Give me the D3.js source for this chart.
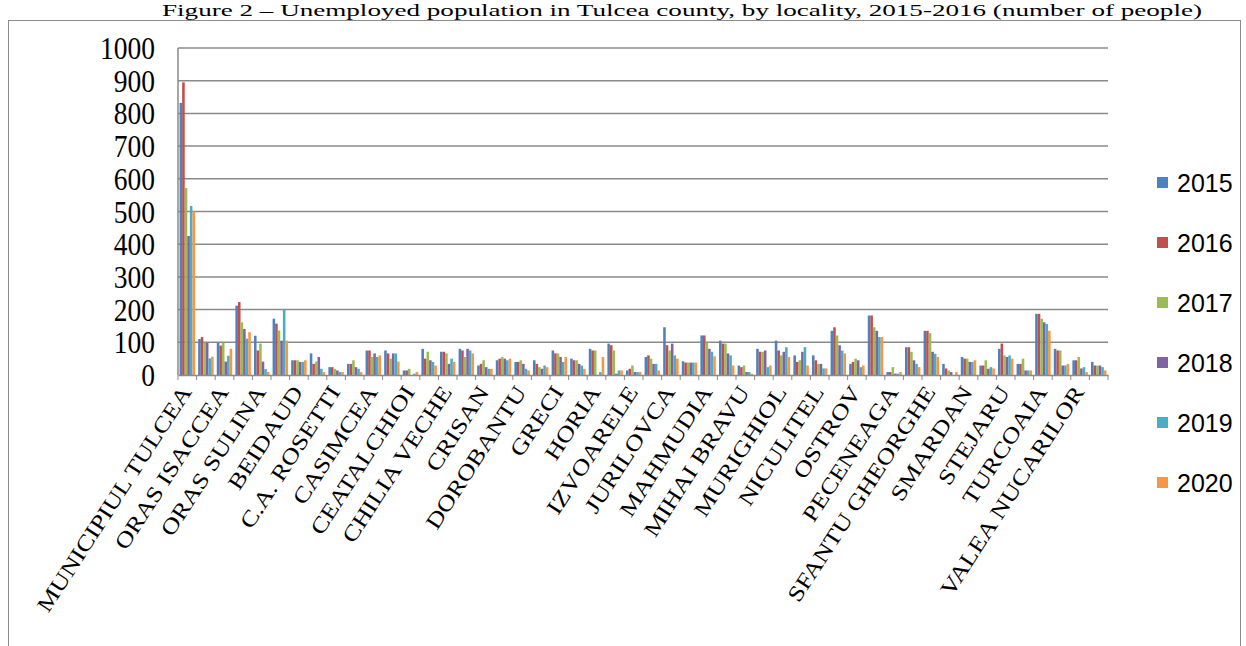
<!DOCTYPE html>
<html>
<head>
<meta charset="utf-8">
<script src="https://cdn.jsdelivr.net/npm/d3@7"></script>
<style>
  body { margin: 0; background: #fff; }
  svg { display: block; }
</style>
</head>
<body>
<div id="chart"></div>
<script>
// localities, in the order of the source table
const categories = [
  "MUNICIPIUL TULCEA", "ORAS BABADAG", "ORAS ISACCEA", "ORAS MACIN", "ORAS SULINA",
  "BAIA", "BEIDAUD", "BESTEPE", "C.A. ROSETTI", "CARCALIU",
  "CASIMCEA", "CEAMURLIA DE JOS", "CEATALCHIOI", "CERNA", "CHILIA VECHE",
  "CIUCUROVA", "CRISAN", "DAENI", "DOROBANTU", "FRECATEI",
  "GRECI", "GRINDU", "HORIA", "I.C. BRATIANU", "IZVOARELE",
  "JIJILA", "JURILOVCA", "LUNCAVITA", "MAHMUDIA", "MALIUC",
  "MIHAI BRAVU", "MIHAIL KOGALNICEANU", "MURIGHIOL", "NALBANT", "NICULITEL",
  "NUFARU", "OSTROV", "PARDINA", "PECENEAGA", "SARICHIOI",
  "SFANTU GHEORGHE", "SLAVA CERCHEZA", "SMARDAN", "SOMOVA", "STEJARU",
  "TOPOLOG", "TURCOAIA", "VACARENI", "VALEA NUCARILOR", "VALEA TEILOR"
];

const years = ["2015", "2016", "2017", "2018", "2019", "2020"];

const v2015 = [832, 110, 99, 212, 120, 172, 45, 66, 24, 34, 75, 75, 14, 80, 71, 80, 29, 45, 40, 45,
  75, 50, 80, 96, 14, 55, 146, 42, 121, 105, 29, 80, 105, 60, 60, 135, 34, 182, 9, 85,
  135, 34, 55, 29, 80, 34, 187, 80, 45, 40];
const v2016 = [895, 116, 90, 223, 75, 157, 45, 34, 24, 34, 75, 66, 14, 50, 71, 75, 34, 50, 40, 34,
  66, 45, 75, 91, 19, 60, 91, 38, 121, 96, 24, 71, 75, 40, 45, 146, 40, 182, 9, 85,
  135, 20, 50, 29, 96, 34, 187, 75, 45, 29];
const v2017 = [572, 99, 99, 161, 96, 136, 45, 41, 19, 45, 55, 50, 19, 71, 66, 55, 45, 55, 45, 24,
  66, 45, 75, 75, 29, 50, 75, 38, 99, 96, 29, 71, 60, 45, 34, 121, 50, 146, 24, 71,
  128, 14, 50, 45, 60, 50, 172, 75, 55, 29];
const v2018 = [425, 99, 41, 141, 41, 105, 40, 55, 14, 24, 66, 66, 0, 45, 34, 80, 24, 50, 34, 19,
  55, 34, 0, 4, 9, 34, 96, 38, 80, 66, 9, 75, 71, 71, 34, 91, 45, 135, 4, 45,
  71, 9, 40, 19, 55, 14, 161, 29, 20, 29];
const v2019 = [517, 51, 59, 111, 18, 200, 40, 19, 9, 19, 55, 66, 4, 40, 50, 75, 19, 45, 19, 29,
  40, 29, 9, 14, 9, 34, 60, 38, 71, 60, 9, 24, 85, 85, 20, 75, 24, 116, 4, 34,
  65, 0, 40, 24, 60, 14, 156, 29, 24, 24];
const v2020 = [500, 56, 80, 131, 9, 105, 45, 9, 9, 9, 60, 41, 9, 29, 40, 66, 19, 50, 14, 24,
  55, 19, 55, 14, 9, 14, 50, 38, 57, 29, 4, 29, 55, 29, 20, 66, 29, 116, 9, 24,
  55, 9, 45, 20, 50, 14, 135, 34, 9, 14];

const series = [v2015, v2016, v2017, v2018, v2019, v2020];
const colors = ["#4F81BD", "#C0504D", "#9BBB59", "#8064A2", "#4BACC6", "#F79646"];
const yTicks = [0, 100, 200, 300, 400, 500, 600, 700, 800, 900, 1000];

const width = 1246, height = 646;
const plotLeft = 178, plotRight = 1108, plotTop = 48, plotBottom = 375;

const svg = d3.select("#chart")
  .append("svg")
  .attr("width", width)
  .attr("height", height);

// title above the frame
svg.append("text")
  .attr("x", 682)
  .attr("y", 16)
  .attr("text-anchor", "middle")
  .attr("font-family", "Liberation Serif, Times New Roman, serif")
  .attr("font-size", 17)
  .attr("textLength", 1040)
  .attr("lengthAdjust", "spacingAndGlyphs")
  .text("Figure 2 \u2013 Unemployed population in Tulcea county, by locality, 2015-2016 (number of people)");

// frame
svg.append("rect")
  .attr("x", 8.5)
  .attr("y", 20.5)
  .attr("width", 1232)
  .attr("height", 700)
  .attr("fill", "none")
  .attr("stroke", "#8c8c8c")
  .attr("stroke-width", 1);

const x = d3.scaleBand()
  .domain(categories)
  .range([plotLeft, plotRight])
  .paddingInner(0.17)
  .paddingOuter(0.085);

const xs = d3.scaleBand()
  .domain(years)
  .range([0, x.bandwidth()]);

const y = d3.scaleLinear()
  .domain([0, 1000])
  .range([plotBottom, plotTop]);

// gridlines
svg.append("g")
  .selectAll("line")
  .data(yTicks.filter(d => d > 0))
  .join("line")
  .attr("x1", plotLeft)
  .attr("x2", plotRight)
  .attr("y1", d => y(d))
  .attr("y2", d => y(d))
  .attr("stroke", "#8a8a8a")
  .attr("stroke-width", 1.5);

// y labels
svg.append("g")
  .selectAll("text")
  .data(yTicks)
  .join("text")
  .attr("transform", d => `translate(155,${y(d) + 11}) scale(0.86,1)`)
  .attr("text-anchor", "end")
  .attr("font-family", "Liberation Serif, Times New Roman, serif")
  .attr("font-size", 32)
  .text(d => d);

// bars
const groups = svg.append("g")
  .selectAll("g")
  .data(categories)
  .join("g")
  .attr("transform", d => `translate(${x(d)},0)`);

groups.selectAll("rect")
  .data((d, i) => years.map((yr, k) => ({ yr: yr, k: k, v: series[k][i] })))
  .join("rect")
  .attr("x", d => xs(d.yr))
  .attr("y", d => y(d.v))
  .attr("width", xs.bandwidth())
  .attr("height", d => plotBottom - y(d.v))
  .attr("fill", d => colors[d.k]);

// y axis line and x axis
svg.append("line")
  .attr("x1", plotLeft).attr("x2", plotLeft)
  .attr("y1", plotTop).attr("y2", plotBottom)
  .attr("stroke", "#8a8a8a").attr("stroke-width", 1.5);

const xAxis = svg.append("g")
  .attr("transform", `translate(0,${plotBottom})`)
  .call(d3.axisBottom(x).tickSize(0).tickFormat(""));
xAxis.select(".domain").attr("stroke", "#8a8a8a").attr("stroke-width", 1.5);

// small ticks between categories
const step = x.step();
svg.append("g")
  .selectAll("line")
  .data(d3.range(categories.length + 1))
  .join("line")
  .attr("x1", i => plotLeft + i * step)
  .attr("x2", i => plotLeft + i * step)
  .attr("y1", plotBottom)
  .attr("y2", plotBottom + 5)
  .attr("stroke", "#8a8a8a");

// category labels, every second one
svg.append("g")
  .selectAll("text")
  .data(categories.filter((d, i) => i % 2 === 0))
  .join("text")
  .attr("transform", d => `translate(${x(d) + x.bandwidth() / 2 + 5},${plotBottom + 17}) rotate(-57) scale(1.2,1)`)
  .attr("text-anchor", "end")
  .attr("font-family", "Liberation Serif, Times New Roman, serif")
  .attr("font-size", 22)
  .text(d => d);

// legend
const legend = svg.append("g")
  .selectAll("g")
  .data(years)
  .join("g")
  .attr("transform", (d, i) => `translate(1157,${183 + i * 60})`);

legend.append("rect")
  .attr("x", 0)
  .attr("y", -6)
  .attr("width", 11)
  .attr("height", 11)
  .attr("fill", (d, i) => colors[i]);

legend.append("text")
  .attr("x", 20)
  .attr("y", 9)
  .attr("font-family", "Liberation Sans, Arial, sans-serif")
  .attr("font-size", 25)
  .text(d => d);
</script>
</body>
</html>
